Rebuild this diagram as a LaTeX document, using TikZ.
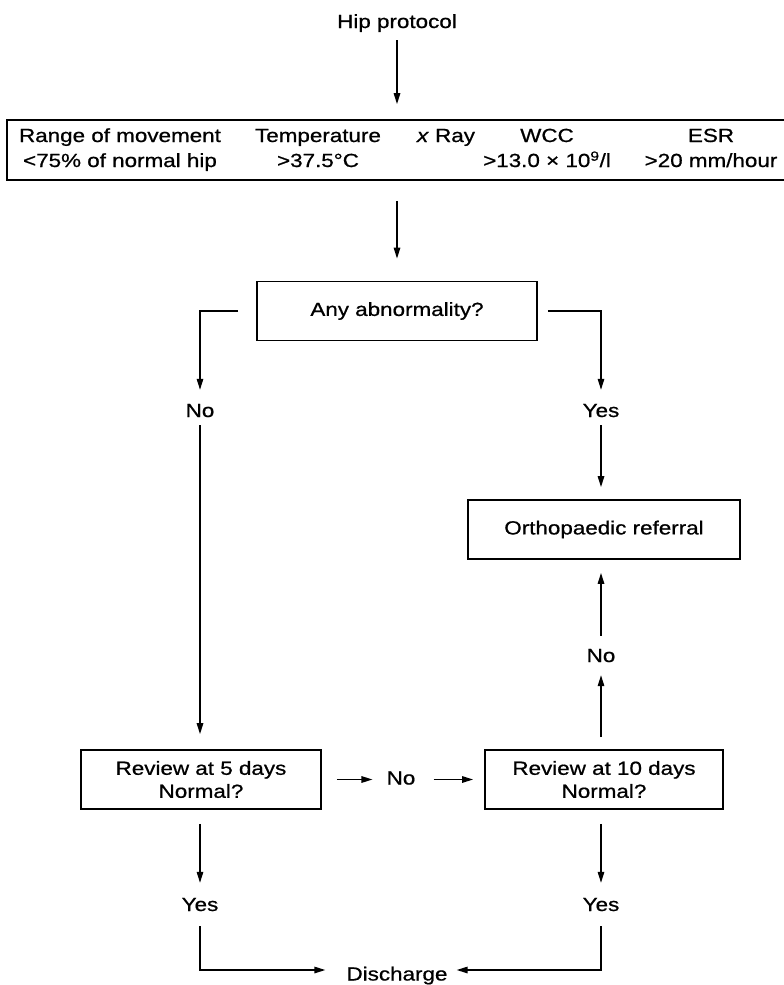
\documentclass[tikz,border=0pt]{standalone}
\usepackage{fontspec}
\setmainfont{Liberation Sans}[FakeStretch=1.18, FakeBold=0.8]
\usetikzlibrary{arrows.meta}
\begin{document}
\begin{tikzpicture}[x=1pt,y=-1pt,
  txt/.style={font=\fontsize{19}{23}\selectfont, inner sep=0pt, text height=14pt, text depth=4pt},
  box/.style={font=\fontsize{19}{23}\selectfont, draw, line width=1.8pt, inner sep=0pt, minimum height=59pt, align=center},
  arr/.style={line width=1.4pt, -{Triangle[length=11pt,width=6.5pt]}}]
\useasboundingbox (0,0) rectangle (784,985);
% title and criteria box
\node[txt] (title) at (397,23) {Hip protocol};
\node[draw, line width=1.8pt, minimum width=785pt, minimum height=60pt, inner sep=0pt] (topbox) at (399.5,150) {};
\node[txt] (c1a) at (120,137) {Range of movement};
\node[txt] (c1b) at (120,162) {<75\% of normal hip};
\node[txt] (c2a) at (318,137) {Temperature};
\node[txt] (c2b) at (318,162) {>37.5°C};
\node[txt] (c3a) at (446,137) {\textit{x} Ray};
\node[txt] (c4a) at (547,137) {WCC};
\node[txt] (c4b) at (547,162) {>13.0 × 10\textsuperscript{9}/l};
\node[txt] (c5a) at (711,137) {ESR};
\node[txt] (c5b) at (711,162) {>20 mm/hour};
% decision boxes and labels
\node[box, minimum width=280pt] (abn) at (397,311) {Any abnormality?};
\node[txt] (no1) at (200,412) {No};
\node[txt] (yes1) at (601,412) {Yes};
\node[box, minimum width=272pt] (ortho) at (604,529.5) {Orthopaedic referral};
\node[txt] (no2) at (601,657) {No};
\node[box, minimum width=240pt] (rev5) at (201,779.5) {Review at 5 days\\Normal?};
\node[box, minimum width=238pt] (rev10) at (604,779.5) {Review at 10 days\\Normal?};
\node[txt] (nomid) at (401,779.5) {No};
\node[txt] (yes2) at (200,906) {Yes};
\node[txt] (yes3) at (601,906) {Yes};
\node[txt, text height=21pt, text depth=0pt] (dis) at (397,970) {Discharge};
% connectors
\draw[arr, shorten <=8pt, shorten >=15pt] (title.south) -- (title.south |- topbox.north);
\draw[arr, shorten <=20pt, shorten >=22pt] (topbox.south -| abn.north) -- (abn.north);
\draw[arr, shorten >=13pt] ([xshift=-18pt]abn.west) -| (no1.north);
\draw[arr, shorten <=4pt, shorten >=15pt] (no1.south) -- (no1.south |- rev5.north);
\draw[arr, shorten >=13pt] ([xshift=10pt]abn.east) -| (yes1.north);
\draw[arr, shorten <=4pt, shorten >=12pt] (yes1.south) -- (yes1.south |- ortho.north);
\draw[arr, shorten <=12pt, shorten >=13pt] (no2.north) -- (no2.north |- ortho.south);
\draw[arr, shorten <=12pt, shorten >=9pt] (no2.south |- rev10.north) -- (no2.south);
\draw[arr, shorten <=15pt, shorten >=14pt] (rev5.east) -- (nomid.west);
\draw[arr, shorten <=18pt, shorten >=11pt] (nomid.east) -- (rev10.west);
\draw[arr, shorten <=14pt, shorten >=14pt] (yes2.north |- rev5.south) -- (yes2.north);
\draw[arr, shorten <=14pt, shorten >=14pt] (yes3.north |- rev10.south) -- (yes3.north);
\draw[arr, shorten <=11pt, shorten >=21pt] (yes2.south) |- (dis.west);
\draw[arr, shorten <=11pt, shorten >=9pt] (yes3.south) |- (dis.east);
\end{tikzpicture}
\end{document}
